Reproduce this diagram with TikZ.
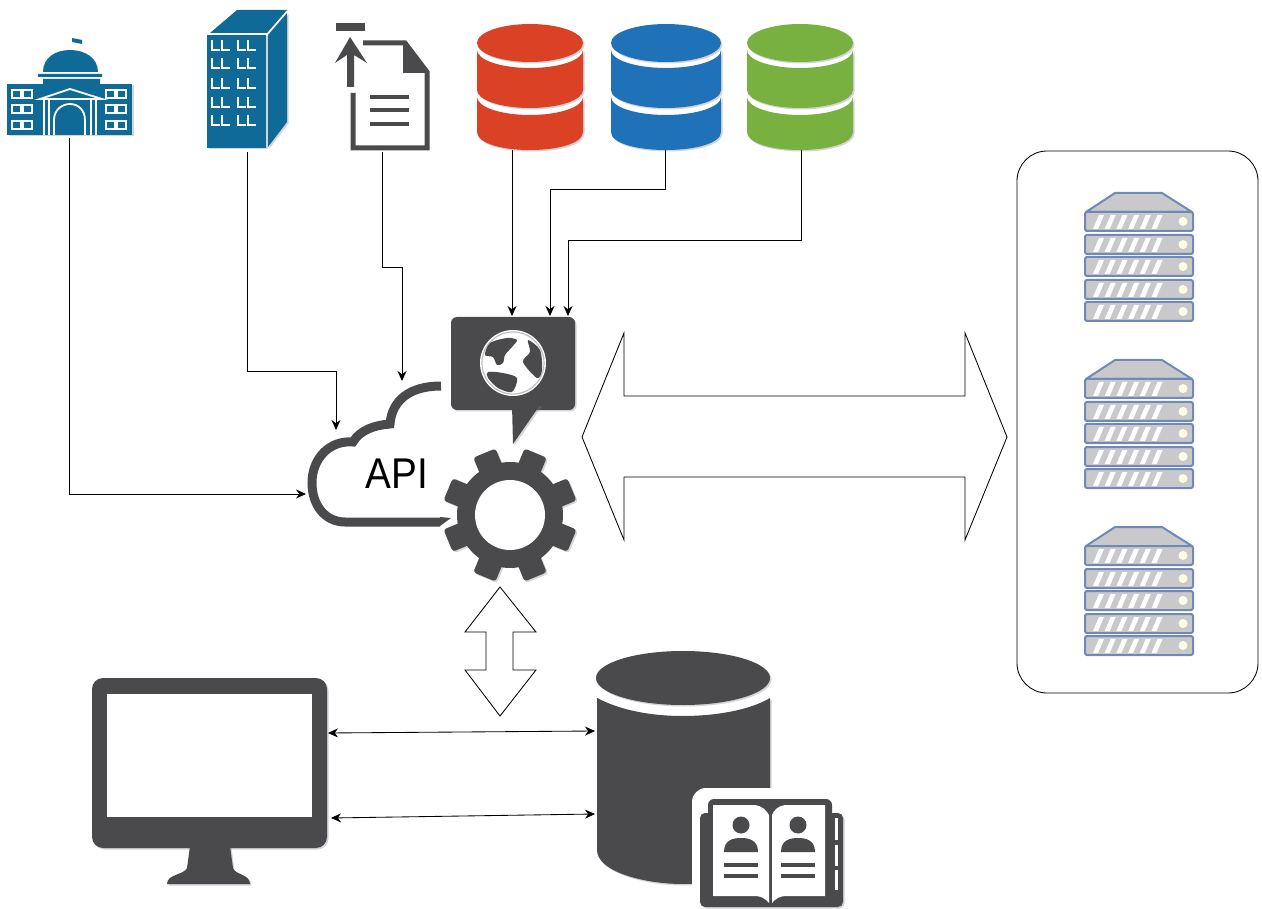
\documentclass[tikz,border=0pt]{standalone}
\usepackage{fontspec}
\setmainfont{Liberation Sans}
\usetikzlibrary{arrows.meta,shadows}
\definecolor{iconink}{HTML}{4A4A4C}
\definecolor{govblue}{HTML}{0F6A98}
\definecolor{dbred}{HTML}{DA4125}
\definecolor{dbblue}{HTML}{1F72B8}
\definecolor{dbgreen}{HTML}{78B13F}
\definecolor{rackline}{HTML}{7189B8}
\definecolor{rackfill}{HTML}{C9C9CB}
\definecolor{shadeink}{HTML}{808090}
\tikzset{
  link/.style = {draw=black, line width=0.85pt, -{Stealth[length=10pt,width=9pt]}},
  duplex/.style = {draw=black, line width=0.85pt, {Stealth[length=10pt,width=9pt]}-{Stealth[length=10pt,width=9pt]}},
  hollow/.style = {draw=black, fill=white, line width=0.85pt, line join=miter},
  soft/.style = {drop shadow={shadow xshift=1.5pt, shadow yshift=-1.5pt, opacity=0.35, fill=shadeink}},
  pics/serverstack/.style = {code = {
    \fill[rackfill, draw=rackline, line width=2pt, line join=round] (1,20) -- (30,1) -- (77,1) -- (107,20) -- cycle;
    \foreach \uy in {20,43,65,88,110} {
      \draw[rackline, fill=rackfill, line width=2pt, rounded corners=2pt] (0,\uy) rectangle (108,\uy+19);
      \foreach \sx in {8,19.7,31.4,43.1,54.8,66.5}
        \fill[white] (\sx,\uy+17) -- (\sx+5,\uy+17) -- (\sx+11,\uy+3) -- (\sx+6,\uy+3) -- cycle;
      \fill[yellow!10] (98,\uy+9.5) circle (4.5);
    }
  }}
}
\begin{document}
\begin{tikzpicture}[x = 1pt, y = -1pt]
\useasboundingbox (0,0) rectangle (1262,909);
% government building
\fill[govblue, soft] (7,84) rectangle (132,135);
\fill[govblue] (43,72) .. controls (43,58) and (55,50) .. (70,50) .. controls (85,50) and (98,58) .. (98,72) -- cycle;
\fill[govblue] (38,74) rectangle (102,77) (43,79) rectangle (100,84);
\fill[govblue] (72,38) -- (82,40) -- (82,44) -- (72,42) -- cycle;
\foreach \wy in {90,105,121} {
  \foreach \wx in {12,23,106,117}
    \draw[white, line width=1.8pt] (\wx,\wy) rectangle (\wx+9,\wy+8);
}
\draw[white, line width=1.8pt] (40,99) -- (70,89) -- (102,99) -- cycle;
\foreach \cx in {44,49,91,96}
  \draw[white, line width=1.5pt] (\cx,100) -- (\cx,135);
\draw[white, line width=1.8pt] (54,135) -- (54,120) .. controls (54,110) and (62,104) .. (70,104) .. controls (78,104) and (85,110) .. (85,120) -- (85,135);
% office tower
\fill[govblue, soft] (207,35) rectangle (266,148);
\fill[govblue] (210,33) -- (237,10) -- (287,10) -- (267,33) -- cycle;
\fill[govblue, soft] (268,35) -- (287,13) -- (287,122) -- (268,147) -- cycle;
\foreach \ly in {40,58,78,97,115} {
  \foreach \lx in {212,222,238,248}
    \draw[white, line width=1.3pt] (\lx,\ly) -- (\lx,\ly+10) -- (\lx+8,\ly+10);
}
% upload file
\draw[iconink, line width=5pt, line join=miter] (363,43) -- (405,43) -- (427,72) -- (427,148) -- (353,148) -- (353,93);
\fill[iconink] (403,43) -- (429,73) -- (403,73) -- cycle;
\fill[iconink] (336,23) rectangle (365,31);
\fill[iconink] (350,37) -- (367,63) -- (354,55) -- (354,87) -- (347,87) -- (347,55) -- (335,63) -- cycle;
\foreach \ly in {97,110,124}
  \draw[iconink, line width=4pt] (370,\ly) -- (409,\ly);
% three databases
\foreach \cx/\rx/\col in {530/53/dbred, 666/55/dbblue, 800/53/dbgreen} {
  \fill[\col, soft] (\cx-\rx,97) .. controls (\cx-\rx,107) and (\cx-.55*\rx,115) .. (\cx,115) .. controls (\cx+.55*\rx,115) and (\cx+\rx,107) .. (\cx+\rx,97) -- (\cx+\rx,132) .. controls (\cx+\rx,143) and (\cx+.55*\rx,150) .. (\cx,150) .. controls (\cx-.55*\rx,150) and (\cx-\rx,143) .. (\cx-\rx,132) -- cycle;
  \fill[\col, soft] (\cx-\rx,50) .. controls (\cx-\rx,60) and (\cx-.55*\rx,68) .. (\cx,68) .. controls (\cx+.55*\rx,68) and (\cx+\rx,60) .. (\cx+\rx,50) -- (\cx+\rx,90) .. controls (\cx+\rx,100) and (\cx+.55*\rx,108) .. (\cx,108) .. controls (\cx-.55*\rx,108) and (\cx-\rx,100) .. (\cx-\rx,90) -- cycle;
  \fill[\col, soft] (\cx,43) ellipse [x radius=\rx, y radius=19];
}
% servers
\node[draw=black, line width=0.85pt, rounded corners=30pt, minimum width=241pt, minimum height=542pt, inner sep=0pt] (rack) at (1137.5,422) {};
\pic at (1085,192) {serverstack};
\pic at (1085,359) {serverstack};
\pic at (1085,526) {serverstack};
% API cloud, globe and gear
\draw[iconink, line width=9pt, line cap=butt] (441,386) .. controls (410,386) and (392,400) .. (390,424) .. controls (375,425) and (360,430) .. (353,442) .. controls (330,440) and (312,458) .. (312,483) .. controls (312,505) and (325,522) .. (345,522) -- (440,522);
\fill[iconink] (440,517) -- (451,518) -- (440,526) -- cycle;
\node[fill=iconink, rounded corners=6pt, minimum width=124pt, minimum height=93pt, inner sep=0pt, soft] (globebox) at (513,363.5) {};
\fill[iconink, soft] (512,405) -- (513,444) -- (540,405) -- cycle;
\fill[white] (513,363) circle (33);
\draw[black!25, line width=1.2pt] (513,363) circle (31);
\fill[iconink] plot[smooth cycle] coordinates {(490,343) (507,338) (517,340) (512,347) (505,355) (503,363) (497,365) (493,357) (485,355)};
\fill[iconink] plot[smooth cycle] coordinates {(528,340) (540,350) (542,370) (537,378) (523,362) (530,352)};
\fill[iconink] plot[smooth cycle] coordinates {(488,372) (503,373) (517,378) (512,392) (498,388) (488,378)};
\foreach \ga in {22.5,67.5,...,337.5}
  \fill[iconink, soft, rounded corners=3pt, rotate around={\ga:(510,515)}] (498,448) rectangle (522,480);
\fill[iconink] (510,515) circle (53);
\fill[white] (510,515) circle (35);
\node[text=black, font=\fontsize{43}{43}\selectfont, inner sep=0pt, xscale=0.9, transform shape] (apitext) at (397,474) {API};
% hollow arrows
\draw[hollow] (582,437) -- (624,333) -- (624,396) -- (965,396) -- (965,333) -- (1007,437) -- (965,540) -- (965,477) -- (624,477) -- (624,540) -- cycle;
\draw[hollow] (500,587) -- (536,632) -- (513,632) -- (513,670) -- (536,670) -- (500,716) -- (465,670) -- (486,670) -- (486,632) -- (465,632) -- cycle;
% monitor
\node[fill=iconink, rounded corners=11pt, minimum width=235pt, minimum height=170pt, inner sep=0pt, soft] (monitor) at (209.5,763) {};
\fill[white] (107,694) rectangle (312,817);
\fill[iconink, soft] (190,846) -- (230,846) -- (233,868) .. controls (235,875) and (250,874) .. (250,884) -- (167,884) .. controls (167,874) and (184,875) .. (187,868) -- cycle;
% user database and address book
\fill[iconink, soft] (597,698) .. controls (620,710) and (650,716) .. (683,716) .. controls (716,716) and (750,710) .. (770,698) -- (770,850) .. controls (770,872) and (720,884) .. (683,884) .. controls (645,884) and (597,872) .. (597,850) -- cycle;
\fill[iconink, soft] (683,678) ellipse [x radius=87, y radius=27];
\fill[white, rounded corners=14pt] (692,788) rectangle (860,920);
\fill[iconink, rounded corners=5pt, soft] (700,813) rectangle (843,907);
\fill[iconink, rounded corners=6pt] (708,799) rectangle (832,880);
\fill[white] (713,805) -- (755,805) .. controls (762,806) and (766,810) .. (769,815) -- (769,903) .. controls (765,898) and (760,896) .. (755,896) -- (713,896) -- cycle;
\fill[white] (825,805) -- (785,805) .. controls (778,806) and (774,810) .. (772,815) -- (772,903) .. controls (776,898) and (781,896) .. (786,896) -- (825,896) -- cycle;
\foreach \ty/\tb in {818/840,845/866,870/890}
  \fill[white] (835,\ty) rectangle (838,\tb);
\foreach \px in {741,798} {
  \fill[iconink] (\px,825) circle (8.5);
  \fill[iconink] (\px-17,852) .. controls (\px-17,840) and (\px-8,838) .. (\px,838) .. controls (\px+8,838) and (\px+17,840) .. (\px+17,852) -- cycle;
  \draw[iconink, line width=4.5pt] (\px-17,865) -- (\px+17,865) (\px-17,876) -- (\px+17,876);
}
% connectors
\coordinate (govout) at (69,138);
\coordinate (towerout) at (247,152);
\coordinate (fileout) at (382,152);
\coordinate (redout) at (512,150);
\coordinate (blueout) at (665,150);
\coordinate (greenout) at (801,150);
\coordinate (cloudleft) at (306,494);
\coordinate (cloudtop) at (336,430);
\coordinate (cloudpeak) at (402,381);
\coordinate (globeA) at (512,316);
\coordinate (globeB) at (550,316);
\coordinate (globeC) at (568,316);
\coordinate (screenA) at (328,733);
\coordinate (screenB) at (331,818);
\coordinate (storeA) at (595,731);
\coordinate (storeB) at (595,814);
\draw[link] (govout) |- (cloudleft);
\draw[link] (towerout) |- (336,371) -- (cloudtop);
\draw[link] (fileout) |- (402,267) -- (cloudpeak);
\draw[link] (redout) -- (globeA);
\draw[link] (blueout) |- (550,189) -- (globeB);
\draw[link] (greenout) |- (568,240) -- (globeC);
\draw[duplex] (screenA) -- (storeA);
\draw[duplex] (screenB) -- (storeB);
\end{tikzpicture}
\end{document}
